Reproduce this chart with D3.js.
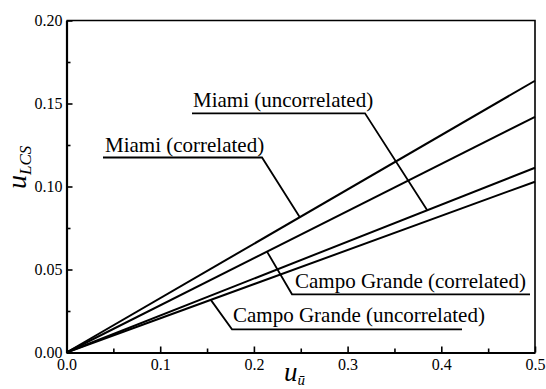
<!DOCTYPE html>
<html>
<head>
<meta charset="utf-8">
<script src="https://cdn.jsdelivr.net/npm/d3@7"></script>
<style>
  html, body { margin: 0; padding: 0; background: #fff; }
  svg { display: block; }
  svg text { font-family: "Liberation Serif", "DejaVu Serif", serif !important; fill: #000; }
</style>
</head>
<body>
<svg id="chart" width="546" height="389"></svg>
<script>
// Expanded uncertainty of the LCS versus uncertainty of the mean (straight lines from origin)
const xEnds = [0.0, 0.5];
const seriesNames = [
  "Miami (correlated)",
  "Campo Grande (correlated)",
  "Miami (uncorrelated)",
  "Campo Grande (uncorrelated)"
];
const miamiCorr = [0.0, 0.1637];
const campoCorr = [0.0, 0.1420];
const miamiUncorr = [0.0, 0.1113];
const campoUncorr = [0.0, 0.1029];

const xMajor = [0.0, 0.1, 0.2, 0.3, 0.4, 0.5];
const xMinor = [0.05, 0.15, 0.25, 0.35, 0.45];
const yMajor = [0.00, 0.05, 0.10, 0.15, 0.20];
const yMinor = [0.025, 0.075, 0.125, 0.175];

// Label callouts: which series the leader touches and at what u value
const calloutSeries = [0, 2, 1, 3];
const calloutAt = [0.249, 0.385, 0.214, 0.154];

const series = [miamiCorr, campoCorr, miamiUncorr, campoUncorr];

const svg = d3.select("#chart");
const L = 66.5, R = 535, T = 20.5, B = 352.5;
const SERIF = "Liberation Serif, DejaVu Serif, serif";

const x = d3.scaleLinear().domain([0, 0.5]).range([L, R]);
const y = d3.scaleLinear().domain([0, 0.2]).range([B, T]);

// frame (top and right)
svg.append("path")
  .attr("d", `M${L},${T}H${R}V${B}`)
  .attr("fill", "none").attr("stroke", "#000").attr("stroke-width", 1.6);

// axes
function styleAxis(g) {
  g.attr("font-family", SERIF);
  g.select(".domain").attr("stroke-width", 2.2);
  g.selectAll(".tick line").attr("stroke-width", 1.6);
  g.selectAll(".tick text").attr("font-size", 16).attr("font-family", SERIF);
}

const fmtX = d3.format(".1f"), fmtY = d3.format(".2f");

svg.append("g").attr("transform", `translate(0,${B})`)
  .call(d3.axisBottom(x).tickValues(xMinor).tickSize(-4).tickFormat(""))
  .call(g => g.select(".domain").remove())
  .selectAll(".tick line").attr("stroke-width", 1.6);
svg.append("g").attr("transform", `translate(${L},0)`)
  .call(d3.axisLeft(y).tickValues(yMinor).tickSize(-4).tickFormat(""))
  .call(g => g.select(".domain").remove())
  .selectAll(".tick line").attr("stroke-width", 1.6);

svg.append("g").attr("transform", `translate(0,${B})`)
  .call(d3.axisBottom(x).tickValues(xMajor).tickSize(-6).tickSizeOuter(0).tickPadding(6).tickFormat(fmtX))
  .call(styleAxis);
svg.append("g").attr("transform", `translate(${L},0)`)
  .call(d3.axisLeft(y).tickValues(yMajor).tickSize(-6).tickSizeOuter(0).tickPadding(4).tickFormat(fmtY))
  .call(styleAxis);

// series lines
const line = d3.line().x((d, i) => x(xEnds[i])).y(d => y(d));
svg.append("g").selectAll("path").data(series).join("path")
  .attr("d", d => line(d))
  .attr("fill", "none").attr("stroke", "#000").attr("stroke-width", 2);

// callout labels: text position, underline span
const callouts = [
  { text: seriesNames[0], tx: 105, ty: 152, uy: 157.5, ux0: 103, ux1: 262, side: "right" },
  { text: seriesNames[2], tx: 193, ty: 107, uy: 113.3, ux0: 192, ux1: 365, side: "right" },
  { text: seriesNames[1], tx: 295, ty: 288, uy: 294.3, ux0: 292, ux1: 530, side: "left" },
  { text: seriesNames[3], tx: 233, ty: 322, uy: 329.3, ux0: 232, ux1: 462, side: "left" }
];

callouts.forEach((c, i) => {
  const s = series[calloutSeries[i]];
  const u = calloutAt[i];
  const ax = x(u), ay = y(s[1] * u / xEnds[1]);
  const pts = c.side === "right"
    ? [[c.ux0, c.uy], [c.ux1, c.uy], [ax, ay]]
    : [[ax, ay], [c.ux0, c.uy], [c.ux1, c.uy]];
  svg.append("path")
    .attr("d", d3.line()(pts))
    .attr("fill", "none").attr("stroke", "#000").attr("stroke-width", 1.8);
  svg.append("text")
    .attr("x", c.tx).attr("y", c.ty)
    .attr("font-family", SERIF)
    .attr("font-size", 21)
    .text(c.text);
});

// axis titles
const xt = svg.append("text").attr("x", 284).attr("y", 381)
  .attr("font-family", SERIF).attr("font-size", 27).attr("font-style", "italic");
xt.append("tspan").text("u");
xt.append("tspan").attr("font-size", 15).attr("dy", 4).text("ū");

const yt = svg.append("text")
  .attr("transform", "translate(26,189) rotate(-90)")
  .attr("font-family", SERIF).attr("font-size", 28).attr("font-style", "italic");
yt.append("tspan").text("u");
yt.append("tspan").attr("font-size", 17).attr("dy", 5).text("LCS");
</script>
</body>
</html>
